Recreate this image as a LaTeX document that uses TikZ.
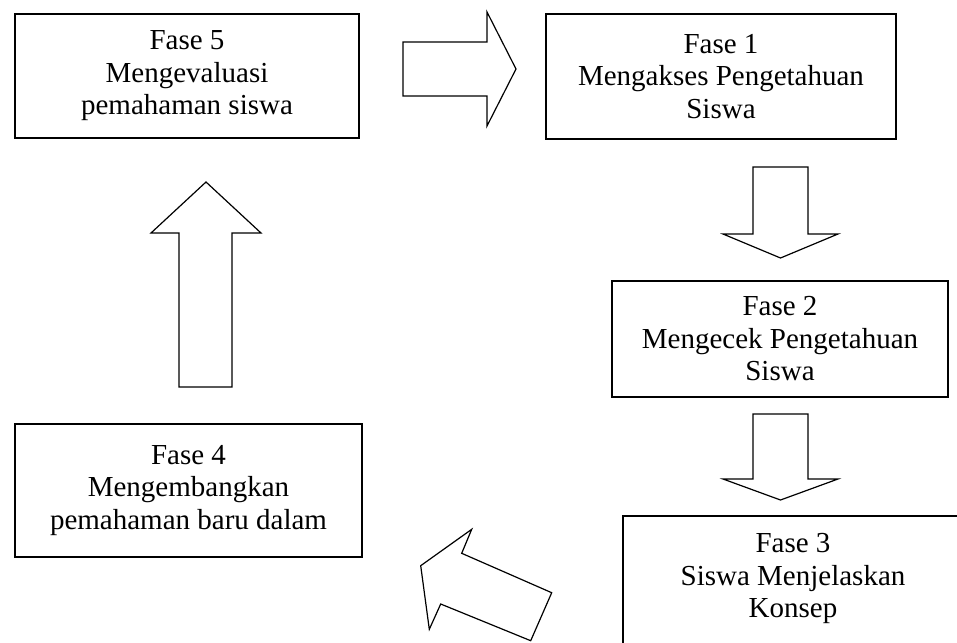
\documentclass[tikz,border=0pt]{standalone}
\usepackage{fontspec}
\setmainfont{Liberation Serif}
\begin{document}
\begin{tikzpicture}[x=1pt,y=-1pt,
  phasebox/.style={draw=black, line width=1.3pt, align=center, inner sep=0pt,
    font=\fontsize{29}{32.5}\selectfont, anchor=center},
  phasetext/.style={align=center, inner sep=0pt,
    font=\fontsize{29}{32.5}\selectfont, anchor=center},
  blockarrow/.style={draw=black, line width=1.2pt, fill=white, line join=miter}]
\useasboundingbox (0,0) rectangle (957,642);
% boxes
\node[phasebox, minimum width=344pt, minimum height=124pt] (b5) at (187,76)
  {Fase 5\\Mengevaluasi\\pemahaman siswa};
\node[phasebox, minimum width=350pt, minimum height=125pt] (b1) at (721,76.5)
  {Fase 1\\Mengakses Pengetahuan\\Siswa};
\node[phasebox, minimum width=336pt, minimum height=116pt] (b2) at (780,339)
  {Fase 2\\Mengecek Pengetahuan\\Siswa};
\node[phasebox, minimum width=340pt, minimum height=140pt] (b3) at (793,586) {};
\node[phasetext] (b3t) at (793,578.5) {Fase 3\\Siswa Menjelaskan\\Konsep};
\node[phasebox, minimum width=347pt, minimum height=133pt] (b4) at (188.5,490.5)
  {Fase 4\\Mengembangkan\\pemahaman baru dalam};
% block arrows
\draw[blockarrow] (403,42) -- (487,42) -- (487,12) -- (516,69) -- (487,126)
  -- (487,96) -- (403,96) -- cycle;
\draw[blockarrow] (753,167) -- (808,167) -- (808,234) -- (838,234) -- (780.5,258)
  -- (723,234) -- (753,234) -- cycle;
\draw[blockarrow] (753,414) -- (808,414) -- (808,479) -- (838,479) -- (780.5,500)
  -- (723,479) -- (753,479) -- cycle;
\draw[blockarrow] (420.7,565.7) -- (471.7,529.3) -- (461.7,553.3) -- (551.7,592.7)
  -- (530.7,640.7) -- (440.7,604) -- (429.3,629.3) -- cycle;
\draw[blockarrow] (206,182) -- (261,233) -- (232,233) -- (232,387) -- (179,387)
  -- (179,233) -- (151,233) -- cycle;
\end{tikzpicture}
\end{document}
